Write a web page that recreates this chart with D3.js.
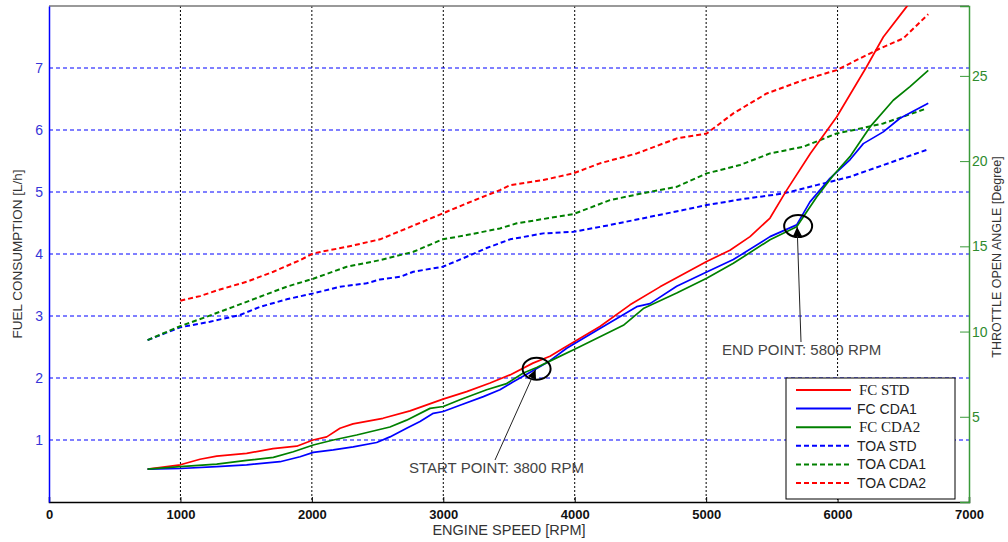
<!DOCTYPE html>
<html>
<head>
<meta charset="utf-8">
<script src="https://cdn.jsdelivr.net/npm/d3@7"></script>
<style>
  body { margin: 0; background: #fff; }
  svg { display: block; font-family: Arial, "Liberation Sans", sans-serif; }
</style>
</head>
<body>
<svg id="chart"></svg>
<script>
// engine speed in RPM
const fcStdRpm = [750, 1000, 1149, 1276, 1504, 1704, 1885, 2009, 2113, 2214, 2313, 2541, 2747, 2998, 3178, 3356, 3508, 3682, 3812, 3913, 4192, 4421, 4649, 5004, 5181, 5334, 5486, 5613, 5793, 5993, 6221, 6348, 6526, 6600];
const fcStd = [0.53, 0.6, 0.69, 0.74, 0.785, 0.86, 0.9, 1.0, 1.05, 1.19, 1.26, 1.35, 1.47, 1.66, 1.78, 1.92, 2.05, 2.24, 2.35, 2.48, 2.83, 3.18, 3.47, 3.88, 4.06, 4.28, 4.58, 5.03, 5.62, 6.21, 7.02, 7.5, 7.99, 8.2];

const fcCda1Rpm = [750, 999, 1276, 1504, 1758, 1910, 2011, 2163, 2315, 2493, 2594, 2721, 2823, 2924, 3000, 3127, 3305, 3431, 3533, 3685, 3799, 3939, 4192, 4472, 4573, 4776, 5004, 5207, 5486, 5689, 5790, 5942, 6094, 6196, 6348, 6475, 6690];
const fcCda1 = [0.53, 0.54, 0.57, 0.6, 0.65, 0.73, 0.8, 0.84, 0.89, 0.96, 1.05, 1.19, 1.3, 1.43, 1.46, 1.56, 1.7, 1.81, 1.94, 2.12, 2.26, 2.48, 2.8, 3.15, 3.2, 3.48, 3.71, 3.91, 4.28, 4.47, 4.84, 5.22, 5.52, 5.78, 5.97, 6.19, 6.43];

const fcCda2Rpm = [750, 999, 1276, 1504, 1707, 1859, 2011, 2163, 2341, 2594, 2721, 2899, 3000, 3127, 3330, 3482, 3609, 3711, 3799, 4015, 4370, 4522, 4776, 5004, 5207, 5486, 5689, 5841, 5968, 6094, 6247, 6424, 6551, 6690];
const fcCda2 = [0.53, 0.57, 0.61, 0.67, 0.72, 0.81, 0.92, 1.0, 1.08, 1.21, 1.32, 1.51, 1.54, 1.65, 1.81, 1.91, 2.08, 2.17, 2.26, 2.48, 2.85, 3.12, 3.37, 3.61, 3.85, 4.23, 4.44, 4.92, 5.27, 5.57, 6.05, 6.48, 6.7, 6.96];

const toaStdRpm = [750, 999, 1225, 1453, 1605, 1808, 2011, 2214, 2417, 2519, 2671, 2772, 2995, 3178, 3330, 3508, 3761, 3989, 4268, 4573, 4826, 5004, 5258, 5587, 5841, 6094, 6348, 6690];
const toaStd = [9.5, 10.25, 10.58, 10.97, 11.45, 11.89, 12.24, 12.63, 12.83, 13.06, 13.21, 13.51, 13.8, 14.39, 14.9, 15.41, 15.76, 15.85, 16.25, 16.73, 17.13, 17.42, 17.75, 18.1, 18.59, 19.08, 19.77, 20.69];

const toaCda1Rpm = [750, 999, 1200, 1402, 1605, 1808, 2011, 2265, 2519, 2772, 2995, 3178, 3431, 3559, 3989, 4268, 4573, 4776, 5004, 5258, 5486, 5739, 5993, 6145, 6348, 6678];
const toaCda1 = [9.5, 10.32, 10.87, 11.45, 12.04, 12.63, 13.1, 13.8, 14.19, 14.68, 15.41, 15.66, 16.05, 16.35, 16.89, 17.71, 18.2, 18.49, 19.28, 19.77, 20.45, 20.84, 21.62, 21.86, 22.21, 23.09];

const toaCda2Rpm = [999, 1149, 1301, 1504, 1707, 1910, 2011, 2265, 2519, 2721, 2995, 3178, 3431, 3508, 3761, 3989, 4192, 4472, 4776, 5004, 5207, 5461, 5739, 5993, 6221, 6323, 6500, 6690];
const toaCda2 = [11.81, 12.08, 12.47, 12.92, 13.51, 14.19, 14.59, 14.97, 15.41, 16.05, 16.93, 17.52, 18.3, 18.59, 18.89, 19.28, 19.87, 20.45, 21.33, 21.62, 22.8, 23.97, 24.75, 25.34, 26.22, 26.61, 27.2, 28.62];

const xTicks = [0, 1000, 2000, 3000, 4000, 5000, 6000, 7000];
const yTicks = [1, 2, 3, 4, 5, 6, 7];
const y2Ticks = [5, 10, 15, 20, 25];

const width = 1008, height = 542;
const marginLeft = 49, marginRight = 39, marginTop = 6, marginBottom = 40;

const svg = d3.select('#chart')
  .attr('width', width)
  .attr('height', height)
  .attr('viewBox', [0, 0, width, height]);

const x = d3.scaleLinear().domain([0, 7000]).range([marginLeft, width - marginRight]);
const y = d3.scaleLinear().domain([0, 8]).range([height - marginBottom, marginTop]);
const y2 = d3.scaleLinear().domain([0, 29.1]).range([height - marginBottom, marginTop]);

svg.append('defs').append('clipPath').attr('id', 'plotclip')
  .append('rect')
  .attr('x', marginLeft).attr('y', marginTop)
  .attr('width', x(7000) - marginLeft).attr('height', y(0) - marginTop);

// grid
svg.append('g')
  .selectAll('line')
  .data(xTicks.filter(d => d > 0 && d < 7000))
  .join('line')
  .attr('x1', d => x(d)).attr('x2', d => x(d))
  .attr('y1', marginTop).attr('y2', y(0))
  .style('stroke', '#000')
  .style('stroke-width', 1)
  .style('stroke-dasharray', '2,2');

svg.append('g')
  .selectAll('line')
  .data(yTicks)
  .join('line')
  .attr('x1', marginLeft).attr('x2', x(7000))
  .attr('y1', d => y(d)).attr('y2', d => y(d))
  .style('stroke', '#0000ff')
  .style('stroke-width', 1)
  .style('stroke-dasharray', '4,3');

// top border
svg.append('line')
  .attr('x1', marginLeft).attr('x2', x(7000))
  .attr('y1', marginTop).attr('y2', marginTop)
  .style('stroke', '#777').style('stroke-width', 1.5);

// series
const series = [
  { rpm: fcStdRpm, vals: fcStd, scale: y, color: '#ff0000', dash: null, label: 'FC STD', serif: true },
  { rpm: fcCda1Rpm, vals: fcCda1, scale: y, color: '#0000ff', dash: null, label: 'FC CDA1', serif: false },
  { rpm: fcCda2Rpm, vals: fcCda2, scale: y, color: '#008000', dash: null, label: 'FC CDA2', serif: true },
  { rpm: toaStdRpm, vals: toaStd, scale: y2, color: '#0000ff', dash: '5,3', label: 'TOA STD', serif: false },
  { rpm: toaCda1Rpm, vals: toaCda1, scale: y2, color: '#008000', dash: '5,3', label: 'TOA CDA1', serif: false },
  { rpm: toaCda2Rpm, vals: toaCda2, scale: y2, color: '#ff0000', dash: '5,3', label: 'TOA CDA2', serif: false },
];

const lines = svg.append('g').attr('clip-path', 'url(#plotclip)');
// draw dashed first, then solid
[3, 4, 5, 0, 1, 2].forEach((i) => {
  const s = series[i];
  const line = d3.line()
    .x((d, j) => x(s.rpm[j]))
    .y((d) => s.scale(d));
  lines.append('path')
    .attr('d', line(s.vals))
    .style('fill', 'none')
    .style('stroke', s.color)
    .style('stroke-width', s.dash ? 2 : 1.7)
    .style('stroke-linejoin', 'round')
    .style('stroke-dasharray', s.dash);
});

// axes
svg.append('g')
  .attr('transform', `translate(0,${y(0)})`)
  .call(d3.axisBottom(x).tickValues(xTicks).tickFormat(d3.format('d')).tickSize(-5).tickPadding(8))
  .call(g => g.select('.domain').style('stroke', '#000').style('stroke-width', 1.5))
  .call(g => g.selectAll('.tick line').style('stroke', '#000'))
  .call(g => g.selectAll('.tick text')
    .style('font-size', '13px').style('font-weight', 'bold').style('fill', '#111'));

svg.append('g')
  .attr('transform', `translate(${marginLeft},0)`)
  .call(d3.axisLeft(y).tickValues(yTicks).tickSize(0).tickPadding(6))
  .call(g => g.select('.domain').style('stroke', '#0000ff').style('stroke-width', 1.5))
  .call(g => g.selectAll('.tick text')
    .style('font-size', '14px').style('fill', '#3535d8'));

svg.append('g')
  .attr('transform', `translate(${x(7000)},0)`)
  .call(d3.axisRight(y2).tickValues(y2Ticks).tickSize(-9).tickPadding(3))
  .call(g => g.select('.domain').style('stroke', '#3a9a3a').style('stroke-width', 1.5))
  .call(g => g.selectAll('.tick line').style('stroke', '#3a9a3a'))
  .call(g => g.selectAll('.tick text')
    .style('font-size', '14px').style('fill', '#2e8b2e'));

// axis titles
svg.append('text')
  .attr('transform', `translate(22,${(marginTop + y(0)) / 2}) rotate(-90)`)
  .attr('text-anchor', 'middle')
  .style('font-size', '13.5px').style('fill', '#333')
  .text('FUEL CONSUMPTION [L/h]');

svg.append('text')
  .attr('transform', `translate(1001,${(marginTop + y(0)) / 2 + 3}) rotate(-90)`)
  .attr('text-anchor', 'middle')
  .style('font-size', '12.5px').style('fill', '#333')
  .text('THROTTLE OPEN ANGLE [Degree]');

svg.append('text')
  .attr('x', (marginLeft + x(7000)) / 2)
  .attr('y', 535)
  .attr('text-anchor', 'middle')
  .style('font-size', '14.5px').style('fill', '#333')
  .text('ENGINE SPEED [RPM]');

// annotations
svg.append('defs').append('marker')
  .attr('id', 'arrow')
  .attr('viewBox', '0 0 10 10')
  .attr('refX', 10).attr('refY', 5)
  .attr('markerWidth', 9).attr('markerHeight', 9)
  .attr('markerUnits', 'userSpaceOnUse')
  .attr('orient', 'auto')
  .append('path').attr('d', 'M0,0 L10,5 L0,10 z').style('fill', '#000');

const notes = [
  { rpm: 3710, fc: 2.15, text: 'START POINT: 3800 RPM', tx: 409, ty: 473, lx1: 495, ly1: 460 },
  { rpm: 5700, fc: 4.45, text: 'END POINT: 5800 RPM', tx: 722, ty: 355, lx1: 801, ly1: 342 },
];
notes.forEach((n) => {
  svg.append('ellipse')
    .attr('cx', x(n.rpm)).attr('cy', y(n.fc))
    .attr('rx', 14).attr('ry', 11)
    .style('fill', 'none').style('stroke', '#000').style('stroke-width', 2);
  svg.append('line')
    .attr('x1', n.lx1).attr('y1', n.ly1)
    .attr('x2', x(n.rpm) - 1).attr('y2', y(n.fc) + 1)
    .style('stroke', '#222').style('stroke-width', 1)
    .attr('marker-end', 'url(#arrow)');
  svg.append('text')
    .attr('x', n.tx).attr('y', n.ty)
    .style('font-size', '15px').style('fill', '#444')
    .text(n.text);
});

// legend
const legend = svg.append('g').attr('transform', 'translate(786,378)');
legend.append('rect')
  .attr('width', 169).attr('height', 121)
  .style('fill', '#fff').style('stroke', '#000').style('stroke-width', 1);
series.forEach((s, i) => {
  const ly = 12 + i * 18.6;
  legend.append('line')
    .attr('x1', 10).attr('x2', 65)
    .attr('y1', ly).attr('y2', ly)
    .style('stroke', s.color)
    .style('stroke-width', 2)
    .style('stroke-dasharray', s.dash ? '5,3' : null);
  legend.append('text')
    .attr('x', s.serif ? 73 : 71).attr('y', ly + 5)
    .style('font-family', s.serif ? '"Liberation Serif", "DejaVu Serif", serif' : null)
    .style('font-size', s.serif ? '15px' : '14px')
    .style('fill', '#222')
    .text(s.label);
});
</script>
</body>
</html>
